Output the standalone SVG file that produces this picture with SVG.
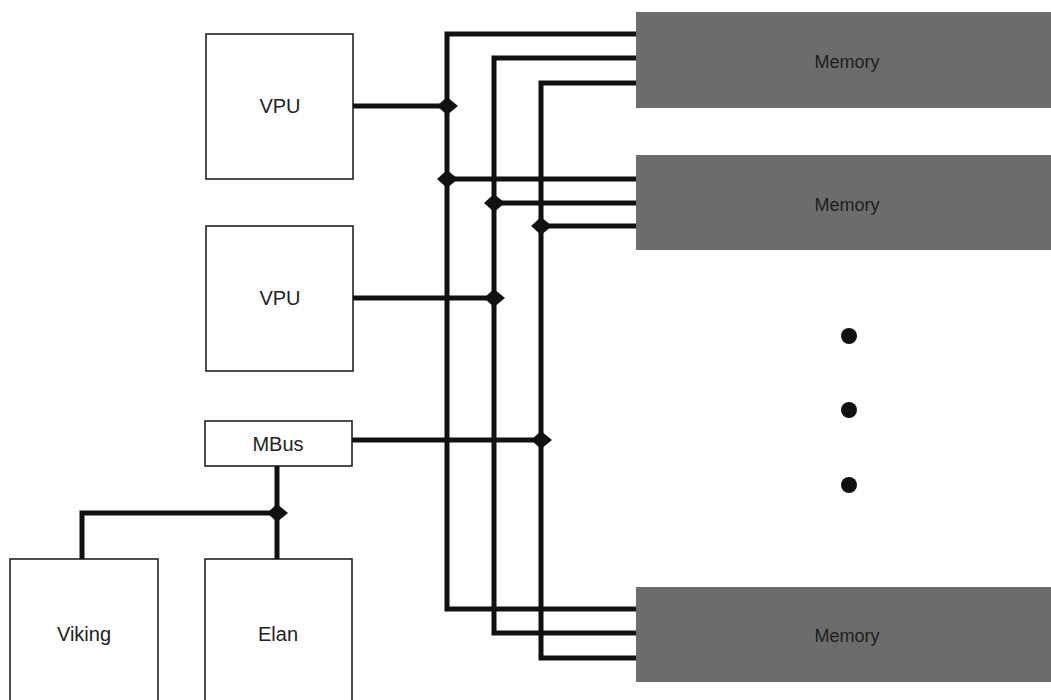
<svg xmlns="http://www.w3.org/2000/svg" width="1051" height="700" viewBox="0 0 1051 700">
<style>
.box{fill:#fff;stroke:#222;stroke-width:1.6}
.mem{fill:#6c6c6c;stroke:none}
.lbl{font-family:"Liberation Sans",Arial,sans-serif;font-size:20px;fill:#222;text-anchor:middle;dominant-baseline:central}
.mlbl{font-family:"Liberation Sans",Arial,sans-serif;font-size:18px;fill:#1e1e1e;text-anchor:middle;dominant-baseline:central}
.w{fill:none;stroke:#111;stroke-width:5;stroke-linejoin:miter;stroke-linecap:butt}
.j{fill:#111}
</style>
<defs>
<path id="dia" d="M-10,0 L0,-9 L11,0 L0,9 Z"/>
</defs>
<rect width="1051" height="700" fill="#fff"/>
<g id="vpu1"><rect class="box" x="206" y="34" width="147" height="145"/><text class="lbl" x="280" y="106">VPU</text></g>
<g id="vpu2"><rect class="box" x="206" y="226" width="147" height="145"/><text class="lbl" x="280" y="298">VPU</text></g>
<g id="mbus"><rect class="box" x="205" y="421" width="147" height="45"/><text class="lbl" x="278" y="444">MBus</text></g>
<g id="viking"><rect class="box" x="10" y="559" width="148" height="150"/><text class="lbl" x="84" y="634">Viking</text></g>
<g id="elan"><rect class="box" x="205" y="559" width="147" height="150"/><text class="lbl" x="278" y="634">Elan</text></g>
<g id="mem1"><rect class="mem" x="636" y="12" width="420" height="96"/><text class="mlbl" x="847" y="62">Memory</text></g>
<g id="mem2"><rect class="mem" x="636" y="155" width="420" height="95"/><text class="mlbl" x="847" y="205">Memory</text></g>
<g id="mem3"><rect class="mem" x="636" y="587" width="420" height="95"/><text class="mlbl" x="847" y="636">Memory</text></g>
<g id="ellipsis" fill="#111"><circle cx="849" cy="336" r="8"/><circle cx="849" cy="410" r="8"/><circle cx="849" cy="485" r="8"/></g>
<g id="connectors">
<path class="w" d="M636,34 H447 V609 H636"/>
<path class="w" d="M636,58 H494 V633 H636"/>
<path class="w" d="M636,83 H541 V658 H636"/>
<path class="w" d="M447,179 H636 M494,203 H636 M541,226 H636"/>
<path class="w" d="M353,106 H447 M353,298 H494 M352,440 H541"/>
<path class="w" d="M277,466 V559 M82,559 V513 H277"/>
<use href="#dia" class="j" x="447" y="106"/>
<use href="#dia" class="j" x="447" y="179"/>
<use href="#dia" class="j" x="494" y="203"/>
<use href="#dia" class="j" x="541" y="226"/>
<use href="#dia" class="j" x="494" y="298"/>
<use href="#dia" class="j" x="541" y="440"/>
<use href="#dia" class="j" x="277" y="513"/>
</g>
</svg>
